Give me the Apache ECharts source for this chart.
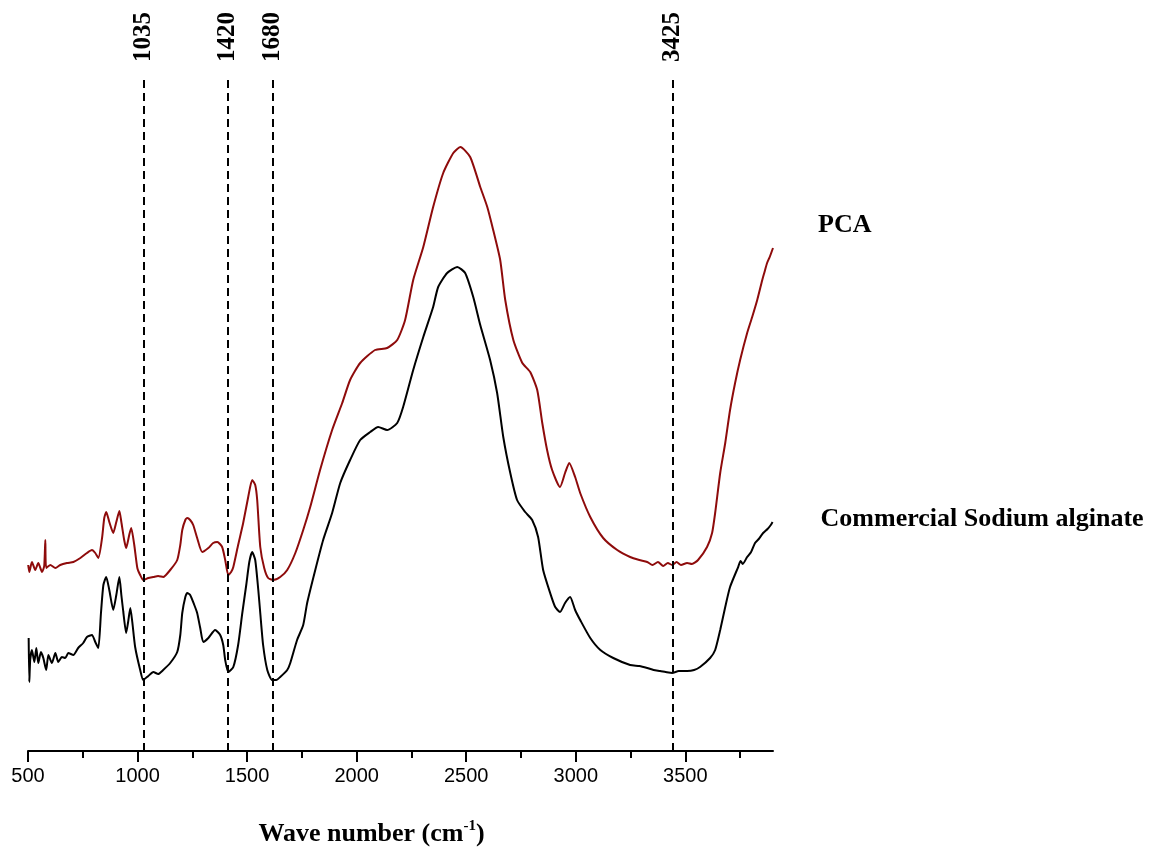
<!DOCTYPE html>
<html>
<head>
<meta charset="utf-8">
<title>FTIR spectra</title>
<script src="https://cdn.jsdelivr.net/npm/echarts@6/dist/echarts.min.js"></script>
<style>
  html, body { margin: 0; padding: 0; background: #fff; }
  #main { width: 1158px; height: 850px; }
</style>
</head>
<body>
<div id="main"></div>
<script>
// wave number axis (cm-1)
var axisMin = 500;
var axisMax = 3900;
var majorTicks = [500, 1000, 1500, 2000, 2500, 3000, 3500];

// marked bands: where the dashed line sits and what it is labelled
var bandPos = [1027, 1412, 1618, 3443];
var bandText = ['1035', '1420', '1680', '3425'];

// Commercial Sodium alginate (black), intensity in arbitrary units
var sodiumWave = [503, 506, 510, 518, 529, 538, 547, 559, 570, 583, 593, 609, 625, 638, 655, 670, 684, 707, 729, 752,
  769, 792, 807, 821, 833, 844, 857, 871, 889, 903, 917, 926, 935, 948, 957, 967, 976, 989, 1012, 1026,
  1049, 1072, 1094, 1117, 1149, 1181, 1195, 1204, 1218, 1227, 1240, 1259, 1272, 1286, 1300, 1323, 1354, 1377, 1391, 1400,
  1414, 1437, 1459, 1478, 1496, 1510, 1523, 1537, 1551, 1560, 1573, 1592, 1614, 1633, 1651, 1683, 1697, 1728, 1756, 1774,
  1811, 1847, 1888, 1925, 1970, 2016, 2062, 2098, 2139, 2185, 2212, 2258, 2304, 2349, 2372, 2413, 2459, 2495, 2532, 2564,
  2609, 2641, 2669, 2701, 2732, 2769, 2801, 2828, 2851, 2883, 2906, 2928, 2951, 2974, 2997, 3020, 3066, 3112, 3171, 3248,
  3290, 3326, 3355, 3385, 3410, 3440, 3470, 3508, 3540, 3567, 3613, 3636, 3659, 3682, 3704, 3741, 3752, 3762, 3782, 3800,
  3818, 3835, 3855, 3875, 3890, 3898];
var sodiumVal = [113, 69, 91, 101, 89, 103, 88, 99, 93, 81, 96, 88, 98, 89, 94, 93, 98, 96, 103, 108,
  114, 116, 109, 103, 138, 166, 174, 161, 141, 156, 174, 156, 139, 118, 129, 143, 129, 104, 81, 71,
  75, 79, 77, 81, 88, 99, 116, 138, 154, 158, 156, 146, 138, 123, 109, 113, 121, 116, 106, 91,
  79, 84, 106, 138, 166, 189, 199, 191, 161, 138, 106, 81, 71, 71, 74, 81, 88, 111, 126, 148,
  181, 211, 238, 268, 291, 311, 319, 324, 321, 328, 344, 381, 414, 444, 464, 478, 484, 478, 454, 426,
  391, 358, 314, 278, 251, 239, 231, 214, 181, 158, 144, 139, 148, 154, 141, 131, 113, 101, 93, 86,
  85, 83, 81, 80, 79, 78, 80, 80, 81, 84, 93, 101, 121, 144, 164, 184, 190, 187, 194, 199,
  208, 212, 218, 222, 226, 229];

// PCA (dark red), intensity in arbitrary units
var pcaWave = [501, 506, 518, 533, 547, 564, 574, 579, 583, 602, 625, 647, 678, 707, 739, 769, 792, 807, 821, 838,
  848, 857, 871, 889, 903, 917, 926, 939, 948, 962, 971, 985, 999, 1012, 1026, 1049, 1072, 1094, 1117, 1149,
  1181, 1195, 1204, 1218, 1227, 1240, 1254, 1272, 1295, 1323, 1345, 1364, 1386, 1400, 1414, 1427, 1437, 1459, 1482, 1505,
  1523, 1537, 1546, 1560, 1578, 1596, 1619, 1651, 1683, 1720, 1756, 1788, 1833, 1888, 1934, 1970, 2016, 2084, 2139, 2185,
  2221, 2258, 2304, 2349, 2395, 2441, 2473, 2518, 2564, 2596, 2623, 2655, 2678, 2715, 2756, 2792, 2824, 2847, 2869, 2892,
  2928, 2951, 2970, 2997, 3020, 3066, 3125, 3189, 3248, 3290, 3326, 3350, 3375, 3399, 3420, 3440, 3460, 3480, 3508, 3530,
  3558, 3599, 3622, 3636, 3659, 3682, 3704, 3727, 3750, 3782, 3805, 3828, 3851, 3860, 3873, 3885, 3900];
var pcaVal = [186, 179, 189, 181, 188, 179, 185, 211, 183, 186, 183, 186, 188, 189, 193, 198, 201, 198, 193, 213,
  233, 239, 229, 218, 229, 240, 229, 211, 203, 216, 223, 206, 183, 176, 171, 173, 174, 175, 174, 181,
  191, 206, 221, 231, 233, 231, 226, 213, 199, 203, 208, 209, 204, 191, 176, 179, 184, 206, 228, 254,
  271, 266, 251, 204, 183, 173, 171, 174, 181, 198, 221, 244, 281, 321, 348, 371, 388, 401, 403, 411,
  431, 471, 504, 544, 578, 598, 604, 594, 564, 544, 521, 491, 451, 411, 388, 379, 361, 328, 301, 281,
  264, 278, 288, 274, 258, 234, 213, 201, 194, 191, 189, 186, 189, 185, 188, 186, 189, 186, 188, 187,
  191, 204, 218, 238, 278, 308, 341, 368, 391, 418, 434, 451, 471, 478, 488, 494, 503];

function pairs(xs, ys) {
	var out = [];
	for (var i = 0; i < xs.length; i++) {
		out.push([xs[i], ys[i]]);
	}
	return out;
}

var serif = 'Liberation Serif';
var sans = 'Liberation Sans';

var myChart = echarts.init(document.getElementById('main'), null, { renderer: 'canvas' });

var option = {
	animation: false,
	backgroundColor: '#ffffff',
	grid: {
		left: 28,
		right: 385,
		top: 77,
		bottom: 99,
		containLabel: false,
		outerBoundsMode: 'none'
	},
	xAxis: [{
		// bottom axis with the numbers
		type: 'value',
		position: 'bottom',
		min: axisMin,
		max: axisMax,
		interval: 500,
		axisLine: { show: true, onZero: false, lineStyle: { color: '#000', width: 2 } },
		axisTick: { show: true, inside: false, customValues: majorTicks, length: 11, lineStyle: { color: '#000', width: 2 } },
		minorTick: { show: true, splitNumber: 2, length: 7, lineStyle: { color: '#000', width: 2 } },
		axisLabel: {
			customValues: majorTicks,
			margin: 15,
			color: '#000',
			fontFamily: sans,
			fontSize: 20,
			formatter: function (v) { return String(v); }
		},
		splitLine: { show: false },
		name: 'Wave number (cm{sup|-1})',
		nameLocation: 'middle',
		nameGap: 68,
		nameTextStyle: {
			color: '#000',
			fontFamily: serif,
			fontWeight: 'bold',
			fontSize: 26,
			padding: [0, 58, 0, 0],
			rich: {
				sup: {
					fontFamily: serif,
					fontWeight: 'bold',
					fontSize: 15,
					color: '#000',
					verticalAlign: 'top',
					lineHeight: 30
				}
			}
		}
	}, {
		// top: labels of the marked bands
		type: 'value',
		position: 'top',
		min: axisMin,
		max: axisMax,
		axisLine: { show: false, onZero: false },
		axisTick: { show: false },
		axisLabel: {
			customValues: bandPos,
			rotate: -90,
			margin: 15,
			color: '#000',
			fontFamily: serif,
			fontWeight: 'bold',
			fontSize: 25,
			formatter: function (v) {
				var i = bandPos.indexOf(v);
				return i >= 0 ? bandText[i] : '';
			}
		},
		splitLine: { show: false }
	}],
	yAxis: {
		type: 'value',
		min: 0,
		max: 674,
		show: false
	},
	series: [{
		name: 'PCA',
		type: 'line',
		xAxisIndex: 0,
		data: pairs(pcaWave, pcaVal),
		showSymbol: false,
		symbol: 'none',
		smooth: 0.2,
		lineStyle: { color: '#8e0b0b', width: 2 },
		itemStyle: { color: '#8e0b0b' },
		endLabel: {
			show: true,
			formatter: '{a}',
			offset: [37, -23],
			color: '#000',
			fontFamily: serif,
			fontWeight: 'bold',
			fontSize: 26
		},
		z: 3
	}, {
		name: 'Commercial Sodium alginate',
		type: 'line',
		xAxisIndex: 0,
		data: pairs(sodiumWave, sodiumVal),
		showSymbol: false,
		symbol: 'none',
		smooth: 0.2,
		lineStyle: { color: '#000', width: 2 },
		itemStyle: { color: '#000' },
		endLabel: {
			show: true,
			formatter: '{a}',
			offset: [40, -3],
			color: '#000',
			fontFamily: serif,
			fontWeight: 'bold',
			fontSize: 26
		},
		markLine: {
			silent: true,
			symbol: ['none', 'none'],
			label: { show: false },
			lineStyle: { color: '#000', width: 2, type: [8, 5] },
			data: bandPos.map(function (p) { return { xAxis: p }; })
		},
		z: 2
	}]
};

myChart.setOption(option);
</script>
</body>
</html>
